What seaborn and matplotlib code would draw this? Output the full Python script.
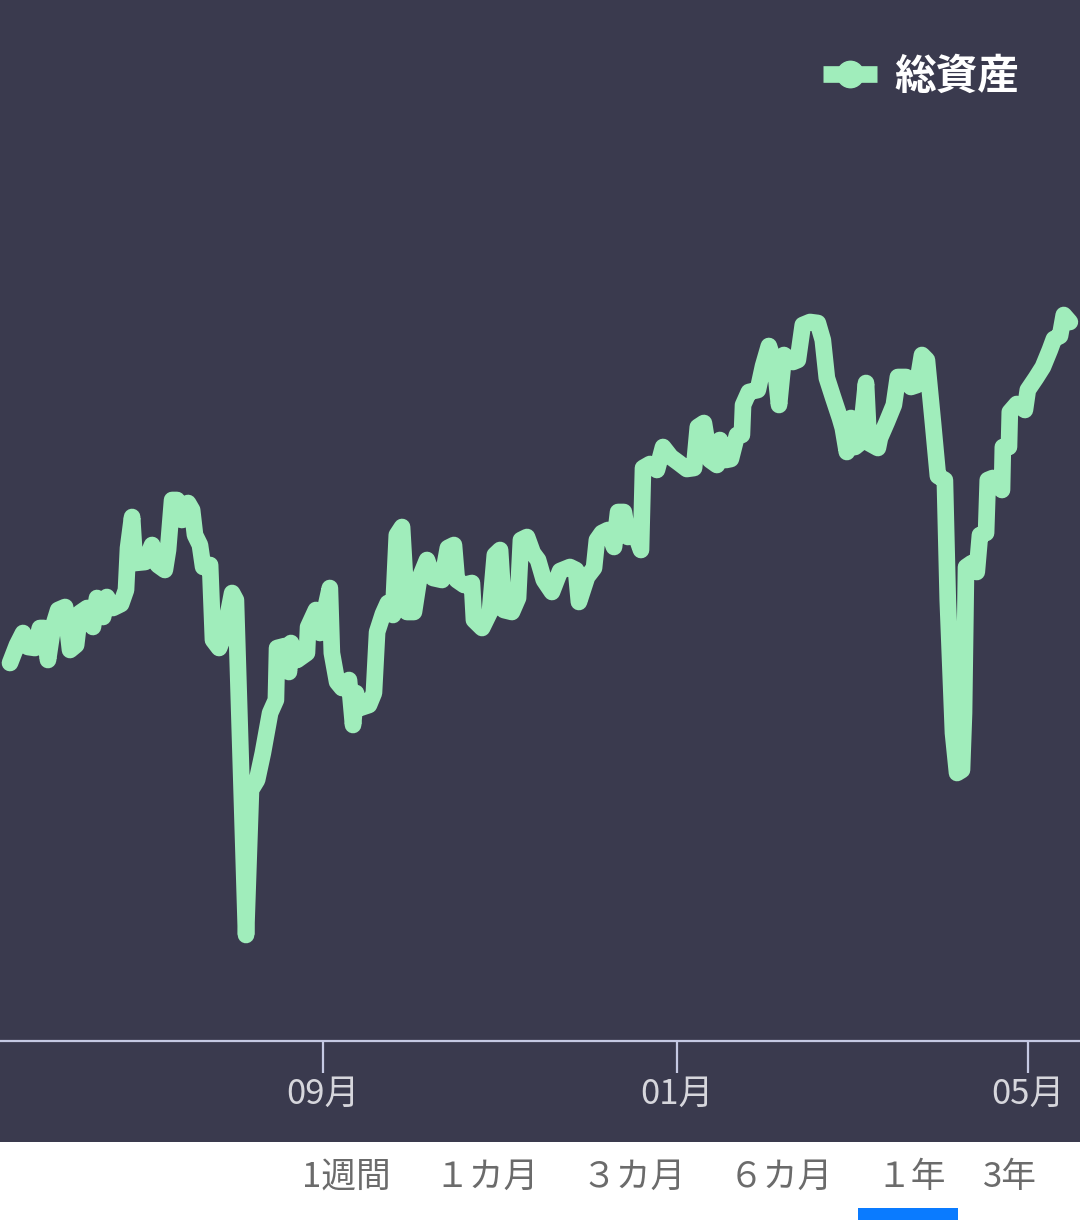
import matplotlib
matplotlib.use("Agg")
import matplotlib.pyplot as plt
from matplotlib.lines import Line2D
from matplotlib.patches import Rectangle
import seaborn as sns
import pandas as pd

# ---- data ----
start_date = "2019-05-16"
day_offsets = [
    0, 2.4, 4.5, 6.2, 8.6, 10.3, 11.7, 13.1, 14.8, 16.6, 19.0, 20.7, 22.8, 24.1, 26.6, 28.6,
    30.0, 32.1, 33.4, 35.5, 38.3, 40.0, 40.7, 42.1, 43.1, 46.6, 49.0, 51.0, 53.4, 54.5, 55.9,
    57.6, 59.3, 61.4, 62.8, 63.8, 65.5, 66.6, 69.0, 70.0, 72.1, 73.8, 76.6, 77.9, 81.4, 83.1,
    85.2, 87.2, 89.7, 91.7, 92.1, 94.8, 96.2, 96.9, 99.0, 102.4, 102.8, 105.5, 106.9, 110.3,
    111.0, 112.8, 114.5, 116.9, 118.3, 119.3, 120.7, 123.8, 125.5, 126.6, 128.6, 130.3, 132.1,
    133.4, 135.2, 136.9, 139.3, 141.0, 143.8, 145.9, 149.0, 151.0, 153.1, 154.1, 156.6, 159.3,
    160.0, 162.8, 165.5, 167.2, 169.0, 170.3, 173.1, 175.2, 176.2, 178.3, 180.3, 182.1, 184.1,
    186.9, 189.7, 193.1, 195.2, 196.2, 199.0, 201.4, 202.4, 204.1, 206.2, 208.3, 209.7, 211.7,
    213.1, 215.2, 217.6, 218.3, 220.7, 223.1, 225.2, 227.9, 230.7, 233.4, 235.9, 237.2, 239.3,
    241.4, 243.8, 244.8, 246.9, 248.6, 250.7, 252.4, 252.8, 254.8, 257.9, 259.7, 261.7, 263.8,
    265.2, 266.9, 270.0, 271.7, 273.4, 275.9, 278.6, 280.3, 281.7, 283.8, 286.2, 287.2, 288.6,
    290.0, 291.4, 293.1, 295.2, 296.2, 299.3, 300.0, 302.4, 304.8, 306.2, 309.0, 310.7, 312.8,
    314.5, 316.2, 318.3, 320.0, 322.4, 323.4, 325.2, 326.6, 328.3, 329.0, 329.7, 331.7, 333.4,
    334.5, 336.6, 337.2, 338.9, 342.1, 342.4, 344.5, 344.8, 347.2, 350.0, 351.0, 353.8, 356.2,
    358.6, 360.0, 362.1, 363.4, 365.5,
]
total_assets = [
    378, 396, 408, 394, 393, 413, 413, 381, 414, 431, 434, 391, 396, 428, 433, 414,
    443, 424, 444, 433, 437, 451, 493, 524, 478, 479, 496, 476, 471, 491, 541,
    541, 521, 538, 531, 506, 496, 474, 476, 401, 393, 406, 448, 441, 106, 251,
    261, 288, 328, 341, 393, 395, 369, 398, 381, 388, 414, 431, 408, 453,
    388, 359, 353, 361, 316, 348, 333, 336, 348, 409, 427, 438, 426,
    506, 514, 429, 429, 461, 481, 463, 461, 493, 496, 461, 456, 458,
    421, 413, 429, 486, 491, 431, 429, 443, 501, 504, 488, 481, 461,
    449, 470, 474, 471, 439, 464, 473, 501, 508, 511, 494, 529, 529,
    504, 511, 491, 573, 577, 571, 594, 584, 578, 572, 573, 614, 618,
    581, 576, 601, 581, 582, 606, 606, 636, 649, 651, 675, 695, 676,
    636, 686, 679, 681, 716, 719, 718, 701, 663, 644, 623, 613, 589,
    623, 594, 598, 658, 598, 593, 603, 619, 636, 664, 664, 654, 656,
    686, 681, 618, 565, 561, 441, 308, 268, 271, 328, 474, 478, 469,
    506, 508, 561, 563, 551, 594, 594, 629, 637, 631, 651, 663, 674,
    691, 702, 705, 726, 719,
]
series_label = "総資産"
tick_dates = ["2019-09-01", "2020-01-01", "2020-05-01"]
tick_labels = ["09月", "01月", "05月"]
period_buttons = ["1週間", "１カ月", "３カ月", "６カ月", "１年", "3年"]
selected_button = "１年"

# ---- style ----
BG = "#3a3a4e"
LINE = "#a0edbb"
AXIS = "#c5c9e3"
TICKTXT = "#d6d6dc"

sns.set_theme(style="white")
plt.rcParams["font.family"] = ["Noto Sans CJK JP", "DejaVu Sans"]

W, H = 1080, 1225
fig = plt.figure(figsize=(W / 100, H / 100), dpi=100)
fig.patch.set_facecolor("white")
fig.add_artist(Rectangle((0, (H - 1142) / H), 1, 1142 / H, transform=fig.transFigure,
                         facecolor=BG, edgecolor="none", zorder=-5))

ax = fig.add_axes([0, (H - 1041) / H, 1, 1041 / H])
ax.set_facecolor(BG)

base = pd.Timestamp(start_date)
df = pd.DataFrame({
    "date": base + pd.to_timedelta(day_offsets, unit="D"),
    "value": total_assets,
})
sns.lineplot(data=df, x="date", y="value", ax=ax, color=LINE, linewidth=12,
             estimator=None, legend=False)
for ln in ax.lines:
    ln.set_solid_capstyle("round")
    ln.set_solid_joinstyle("round")

ax.set_xlim(base - pd.Timedelta(days=3.45), base + pd.Timedelta(days=369.0))
ax.set_ylim(0, 1041)
ax.set_xlabel("")
ax.set_ylabel("")
ax.set_yticks([])
ax.set_xticks(pd.to_datetime(tick_dates))
ax.set_xticklabels(tick_labels)
ax.tick_params(axis="x", bottom=True, direction="out", length=23, width=1.6, color=AXIS,
               labelcolor=TICKTXT, labelsize=25, pad=3)
for s in ["top", "left", "right"]:
    ax.spines[s].set_visible(False)
ax.spines["bottom"].set_color(AXIS)
ax.spines["bottom"].set_linewidth(1.6)

handle = Line2D([], [], color=LINE, linewidth=12, marker="o", markersize=19,
                markerfacecolor=LINE, markeredgecolor=LINE, solid_capstyle="butt")
leg = ax.legend(handles=[handle], labels=[series_label], loc="center right",
                bbox_to_anchor=(1019 / W, 1 - 77 / 1041), frameon=False,
                handlelength=1.3, handletextpad=0.4, borderaxespad=0, borderpad=0,
                prop={"size": 30, "weight": "bold"})
for t in leg.get_texts():
    t.set_color("white")

# period selector
btn_centers = [346, 487, 634, 781, 911, 1010]
for lab, cx in zip(period_buttons, btn_centers):
    fig.text(cx / W, 1 - 1177 / H, lab, ha="center", va="center", fontsize=25, color="#6b6b6b")
    if lab == selected_button:
        fig.add_artist(Rectangle(((cx - 53) / W, 1 - 1220 / H), 100 / W, 12 / H,
                                 transform=fig.transFigure, facecolor="#0a7bff",
                                 edgecolor="none", zorder=5))

fig.savefig("out.png", dpi=100, facecolor=fig.get_facecolor())
